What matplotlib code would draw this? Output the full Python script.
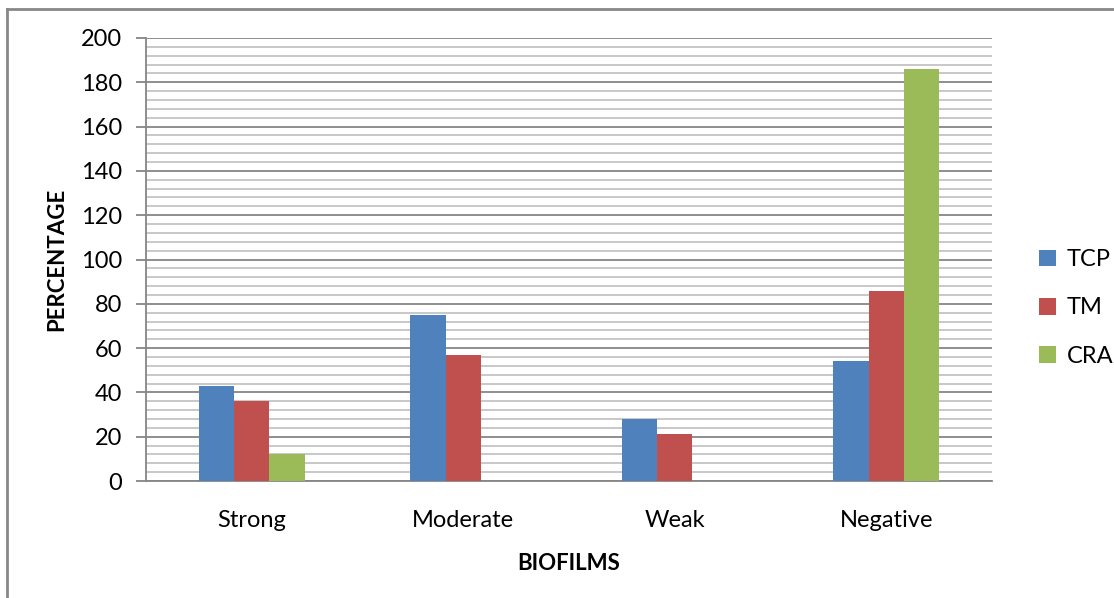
import matplotlib.pyplot as plt
from matplotlib.lines import Line2D
import numpy as np

categories = ["Strong", "Moderate", "Weak", "Negative"]
series_names = ["TCP", "TM", "CRA"]
tcp = [43, 75, 28, 54]
tm = [36, 57, 21, 86]
cra = [12, 0, 0, 186]
colors = ["#4F81BD", "#C0504D", "#9BBB59"]

plt.rcParams['font.family'] = ['Lato', 'DejaVu Sans']

fig = plt.figure(figsize=(11.14, 5.98), dpi=100)
ax = fig.add_axes([146 / 1114, 1 - 481 / 598, 846 / 1114, 443 / 598])

x = np.arange(len(categories))
w = 0.167
for i, (vals, name) in enumerate(zip([tcp, tm, cra], series_names)):
    ax.bar(x + (i - 1) * w, vals, width=w, color=colors[i], label=name, zorder=3)

ax.set_xlim(-0.5, 3.5)
ax.set_ylim(0, 200)
ax.set_yticks(range(0, 201, 20))
ax.set_yticks(range(0, 201, 4), minor=True)
ax.grid(axis='y', which='major', color='#868686', linewidth=1.3, zorder=0)
ax.grid(axis='y', which='minor', color='#c4c4c4', linewidth=1.3, zorder=0)
ax.tick_params(axis='y', which='major', length=7, width=1.3, color='#868686',
               labelsize=17, pad=10)
ax.tick_params(axis='y', which='minor', length=0)
ax.tick_params(axis='x', length=0, labelsize=17, pad=21)
ax.set_xticks(x)
ax.set_xticklabels(categories)

for s in ['top', 'right']:
    ax.spines[s].set_visible(False)
for s in ['left', 'bottom']:
    ax.spines[s].set_color('#868686')
    ax.spines[s].set_linewidth(1.3)

ax.set_xlabel("BIOFILMS", fontsize=16, fontweight='bold', labelpad=16)
ax.set_ylabel("PERCENTAGE", fontsize=16, fontweight='bold', labelpad=10)

fig.legend(loc='center left', bbox_to_anchor=(1030 / 1114, 1 - 308 / 598),
           frameon=False, fontsize=17, handlelength=0.7, handleheight=0.7,
           handletextpad=0.45, labelspacing=1.15, borderaxespad=0)

# frame lines along the left and top edges
fig.add_artist(Line2D([6.5 / 1114, 6.5 / 1114], [0, 1 - 9 / 598],
                      transform=fig.transFigure, color='#888888', linewidth=2))
fig.add_artist(Line2D([6.5 / 1114, 1], [1 - 9 / 598, 1 - 9 / 598],
                      transform=fig.transFigure, color='#888888', linewidth=2))

fig.savefig("out.png", dpi=100)
